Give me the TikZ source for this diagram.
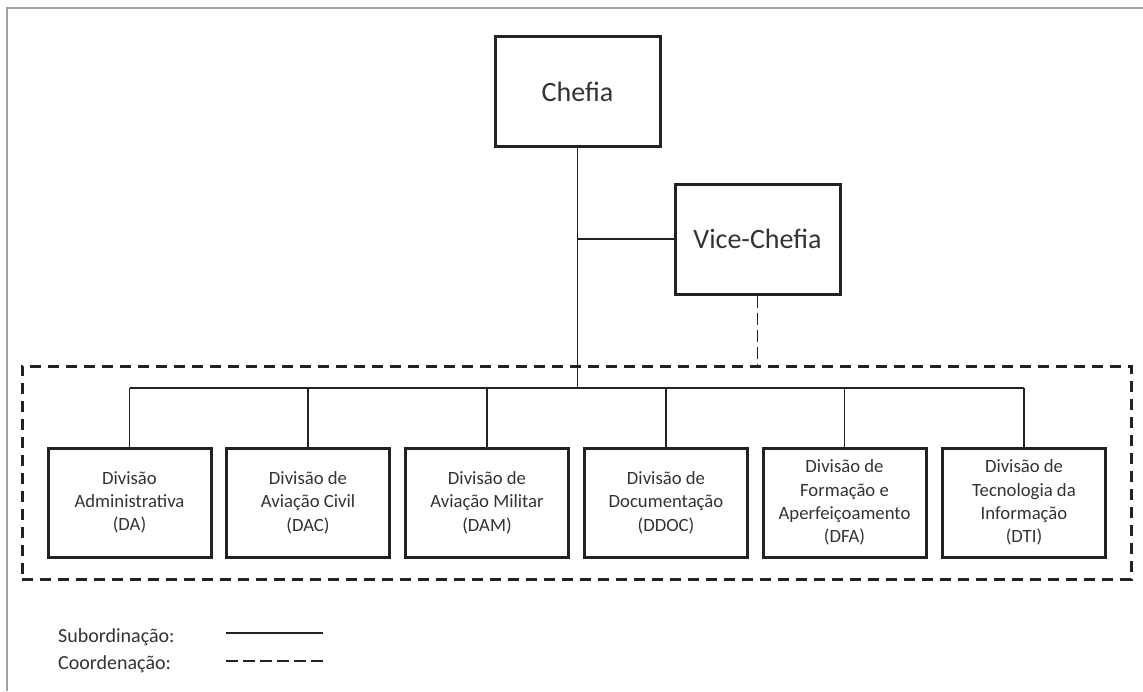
\documentclass[tikz,border=0pt]{standalone}
\usepackage{fontspec}
\setmainfont{Carlito}
\definecolor{ink}{HTML}{222222}
\definecolor{txt}{HTML}{333333}
\definecolor{frame}{HTML}{A0A0A0}
\begin{document}
\begin{tikzpicture}[x=1pt,y=-1pt,
  topbox/.style={draw=ink,line width=3pt,minimum width=165pt,minimum height=110pt,
    inner sep=0pt,text=txt,font=\fontsize{28}{32}\selectfont},
  divbox/.style={draw=ink,line width=3pt,minimum width=163pt,minimum height=109pt,
    inner sep=0pt,text=txt,align=center,font=\fontsize{18.7}{23.3}\selectfont},
  sub/.style={draw=ink,line width=1.4pt},
  coord/.style={draw=ink,line width=1.4pt,dash pattern=on 12pt off 5pt},
  groupbox/.style={draw=ink,line width=3pt,dash pattern=on 11pt off 7pt,
    minimum width=1109pt,minimum height=213pt,inner sep=0pt},
  legend/.style={anchor=west,text=txt,inner sep=0pt,font=\fontsize{20}{24}\selectfont}]
\useasboundingbox (0,0) rectangle (1143,691);
\fill[white] (0,0) rectangle (1143,691);
% page frame (top and left edges only)
\draw[frame,line width=1.5pt] (7,691) -- (7,8) -- (1143,8);

% group of divisions
\node[groupbox] (grp) at (576.5,472.5) {};

% management
\node[topbox] (chefia) at (577.5,91.5) {Chefia};
\node[topbox] (vice) at (757.5,239) {Vice-Chefia};

% divisions
\node[divbox] (da)   at (129.5,502.5) {Divisão\\Administrativa\\(DA)};
\node[divbox] (dac)  at (308,502.5)   {Divisão de\\Aviação Civil\\(DAC)};
\node[divbox] (dam)  at (487,502.5)   {Divisão de\\Aviação Militar\\(DAM)};
\node[divbox] (ddoc) at (666,502.5)   {Divisão de\\Documentação\\(DDOC)};
\node[divbox] (dfa)  at (844.5,502.5) {Divisão de\\Formação e\\Aperfeiçoamento\\(DFA)};
\node[divbox] (dti)  at (1024,502.5)  {Divisão de\\Tecnologia da\\Informação\\(DTI)};

% connectors
\coordinate (bus) at (577.5,388);
\draw[sub] (chefia.south) -- (bus);
\draw[sub] (vice.west) -- (vice.west -| chefia.south);
\draw[sub] (da.north |- bus) -- (dti.north |- bus);
\foreach \d in {da,dac,dam,ddoc,dfa,dti}
  \draw[sub] (\d.north |- bus) -- (\d.north);
\draw[coord] (vice.south) -- (vice.south |- grp.north);

% legend
\node[legend] (lsub) at (58,637) {Subordinação:};
\node[legend] (lcoo) at (58,664) {Coordenação:};
\coordinate (ls1) at (226,633);
\coordinate (ls2) at (323,633);
\coordinate (lc1) at (226,661);
\coordinate (lc2) at (323,661);
\draw[sub] (ls1) -- (ls2);
\draw[coord] (lc1) -- (lc2);
\end{tikzpicture}
\end{document}
